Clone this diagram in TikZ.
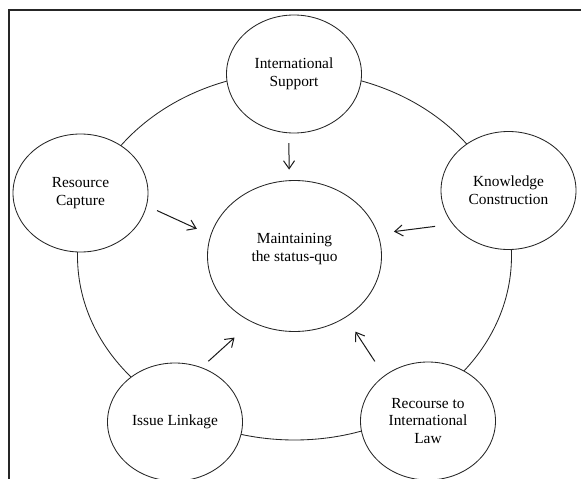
\documentclass[tikz,border=0pt]{standalone}
\usepackage{fontspec}
\setmainfont{Liberation Serif}
\usetikzlibrary{arrows.meta}
\usetikzlibrary{shapes.geometric}

\begin{document}
\begin{tikzpicture}[x=1pt, y=-1pt,
  lbl/.style={align=center, font=\fontsize{15.4}{17.7}\selectfont},
  factor/.style={lbl, draw=black!85, line width=0.85pt, fill=white, ellipse, inner sep=0pt, minimum width=135pt, minimum height=118pt},
  hub/.style={factor, minimum width=174pt, minimum height=151pt},
  flow/.style={draw=black!90, line width=1pt, -{Straight Barb[length=8pt, width=11pt]}}]
\useasboundingbox (0, 0) rectangle (581, 479);
\draw [black!85, line width=2.2pt] (9, 479) -- (9, 10) -- (581, 10);
\draw [black!85, line width=0.85pt] (294.5, 256) ellipse [x radius=217pt, y radius=184pt];
\node[hub] (main) at (294.5, 256) {};
\node[lbl] (mainlbl) at (294.5, 249) {Maintaining\\the status-quo};
\node[factor] (is) at (294, 74) {International\\Support};
\node[factor] (kc) at (508.5, 190.5) {Knowledge\\Construction};
\node[factor] (rc) at (80.5, 193) {Resource\\Capture};
\node[factor] (il) at (175, 422) {Issue Linkage};
\node[factor] (rl) at (428, 421) {Recourse to\\International\\Law};
\draw[flow, shorten <=9.8pt, shorten >=10.6pt] (is.265) -- (main.94);
\draw[flow, shorten <=11.2pt, shorten >=15pt] (rc.-11) -- (main.166);
\draw[flow, shorten <=17.5pt, shorten >=16pt] (kc.211) -- (main.15);
\draw[flow, shorten <=9pt, shorten >=23pt] (il.64) -- (main.237);
\draw[flow, shorten <=17pt, shorten >=17pt] (rl.134) -- (main.-50);
\end{tikzpicture}
\end{document}
